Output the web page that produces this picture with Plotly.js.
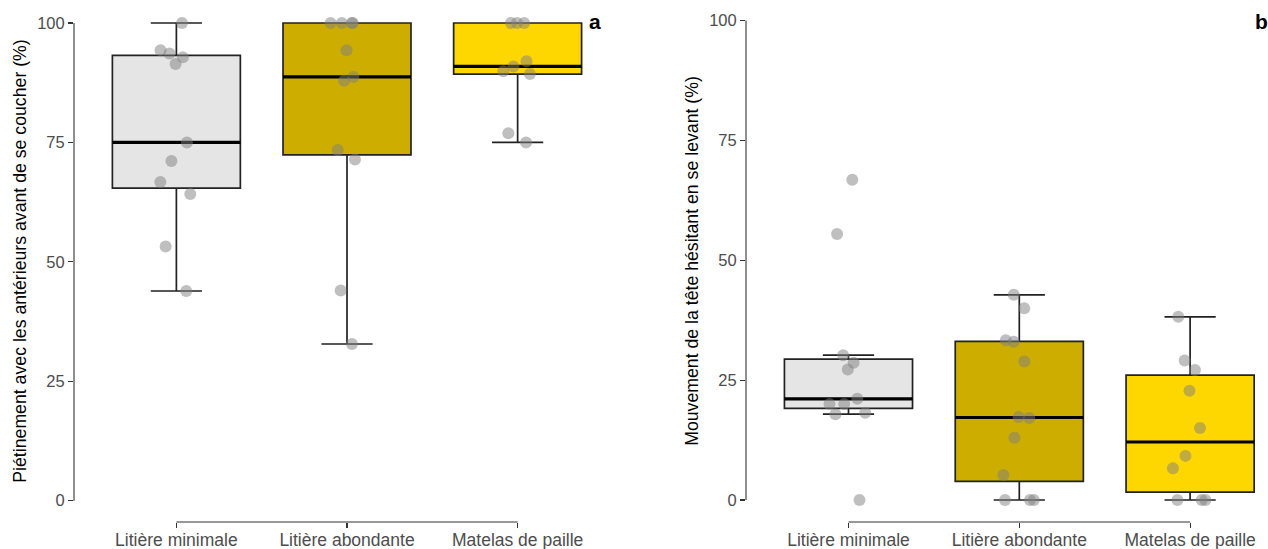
<!DOCTYPE html>
<html>
<head>
<meta charset="utf-8">
<script src="https://cdn.plot.ly/plotly-3.0.1.min.js"></script>
<style>html,body{margin:0;padding:0;background:#fff;}#chart{width:1268px;height:549px;}</style>
</head>
<body>
<div id="chart"></div>
<script>
// ---- data ----
const categories = ['Litière minimale', 'Litière abondante', 'Matelas de paille'];
const fillColors = ['#E5E5E5', '#CDAD00', '#FFD700'];
const yTicks = [0, 25, 50, 75, 100];

// Panel a : Piétinement avec les antérieurs avant de se coucher (%)
const pietinementMinimale  = [100, 94.3, 93.6, 92.8, 91.4, 75, 71.1, 66.7, 64.2, 53.2, 43.9];
const pietinementAbondante = [100, 100, 100, 100, 94.3, 88.7, 87.9, 73.4, 71.4, 44, 32.8];
const pietinementMatelas   = [100, 100, 100, 92, 90.9, 89.9, 89.3, 76.9, 75];

// Panel b : Mouvement de la tête hésitant en se levant (%)
const mouvementMinimale  = [66.8, 55.5, 30.2, 28.6, 27.2, 21.1, 20, 20, 18.2, 17.9, 0];
const mouvementAbondante = [42.8, 40, 33.3, 33.0, 28.9, 17.3, 17.1, 13, 5.2, 0, 0, 0];
const mouvementMatelas   = [38.2, 29.1, 27.1, 22.8, 15.0, 9.2, 6.6, 0, 0, 0];

const titleA = 'Piétinement avec les antérieurs avant de se coucher (%)';
const titleB = 'Mouvement de la tête hésitant en se levant (%)';
const panelLabels = ['a', 'b'];

// ---- stats (type 7 quantiles, Tukey whiskers) ----
function q(sorted, p) {
  const h = (sorted.length - 1) * p, lo = Math.floor(h), hi = Math.ceil(h);
  return sorted[lo] + (h - lo) * (sorted[hi] - sorted[lo]);
}
function stats(vals) {
  const s = vals.slice().sort((a, b) => a - b);
  const q1 = q(s, 0.25), med = q(s, 0.5), q3 = q(s, 0.75), iqr = q3 - q1;
  const lf = Math.min(...s.filter(v => v >= q1 - 1.5 * iqr));
  const uf = Math.max(...s.filter(v => v <= q3 + 1.5 * iqr));
  return {q1, med, q3, lf, uf};
}

const FONT = 'Liberation Sans, Arial, Helvetica, sans-serif';
const traces = [];
function addPanel(groups, xa, ya) {
  groups.forEach((vals, i) => {
    const st = stats(vals);
    const cat = categories[i];
    traces.push({
      type: 'box', x: [cat], q1: [st.q1], median: [st.med], q3: [st.q3],
      lowerfence: [st.lf], upperfence: [st.uf],
      xaxis: xa, yaxis: ya, fillcolor: fillColors[i],
      line: {color: '#222222', width: 1.7}, whiskerwidth: 0.4, width: 0.75,
      boxpoints: false, hoverinfo: 'skip', showlegend: false
    });
    traces.push({
      type: 'box', x: [cat], q1: [st.med], median: [st.med], q3: [st.med],
      lowerfence: [st.med], upperfence: [st.med],
      xaxis: xa, yaxis: ya, fillcolor: 'rgba(0,0,0,0)',
      line: {color: '#000000', width: 3.2}, whiskerwidth: 0, width: 0.75,
      boxpoints: false, hoverinfo: 'skip', showlegend: false
    });
    traces.push({
      type: 'box', x: vals.map(() => cat), y: vals,
      xaxis: xa, yaxis: ya, boxpoints: 'all', jitter: 0.35, pointpos: 0,
      fillcolor: 'rgba(0,0,0,0)', line: {color: 'rgba(0,0,0,0)', width: 0},
      whiskerwidth: 0, width: 0.75,
      marker: {color: 'rgba(128,128,128,0.5)', size: 12, line: {width: 0}},
      hoverinfo: 'skip', showlegend: false
    });
  });
}
addPanel([pietinementMinimale, pietinementAbondante, pietinementMatelas], 'x', 'y');
addPanel([mouvementMinimale, mouvementAbondante, mouvementMatelas], 'x2', 'y2');

const W = 1268;
function xAxis(domain, range) {
  return {
    domain, range, type: 'category', categoryorder: 'array', categoryarray: categories,
    showline: false, showgrid: false, zeroline: false,
    ticks: 'outside', ticklen: 5, tickwidth: 1.1, tickcolor: '#333333',
    ticklabelstandoff: -3,
    tickfont: {family: FONT, size: 17.5, color: '#4D4D4D'}, fixedrange: true
  };
}
function yAxis(range, title, anchor) {
  return {
    range, anchor, tickvals: yTicks, ticktext: yTicks.map(String),
    showline: false, showgrid: false, zeroline: false,
    ticks: 'outside', ticklen: 5, tickwidth: 1.1, tickcolor: '#333333',
    tickfont: {family: FONT, size: 16.5, color: '#4D4D4D'},
    title: {text: title, font: {family: FONT, size: 17.7, color: '#000000'}, standoff: 5},
    fixedrange: true
  };
}

const axisLine = {color: '#333333', width: 1.1};
const shapes = [];
[['x', 'y'], ['x2', 'y2']].forEach(([xa, ya]) => {
  shapes.push({type: 'line', xref: xa + ' domain', x0: 0, x1: 0, yref: ya,
               y0: yTicks[0], y1: yTicks[yTicks.length - 1], line: axisLine});
  shapes.push({type: 'line', xref: xa, x0: 0, x1: categories.length - 1,
               yref: ya + ' domain', y0: 0, y1: 0, line: axisLine});
});

const layout = {
  width: W, height: 549,
  margin: {l: 0, r: 0, t: 0, b: 27, pad: 0},
  paper_bgcolor: '#ffffff', plot_bgcolor: '#ffffff',
  showlegend: false, boxmode: 'overlay',
  xaxis: xAxis([74 / W, 620 / W], [-0.6, 2.6]),
  yaxis: yAxis([-4.46, 104.81], titleA, 'x'),
  xaxis2: xAxis([746 / W, 1], [-0.6, 2.456]),
  yaxis2: yAxis([-4.59, 104.28], titleB, 'x2'),
  shapes,
  annotations: [
    {text: '<b>' + panelLabels[0] + '</b>', xref: 'paper', yref: 'paper', x: 594.5 / W, y: 1 - 21 / 522,
     xanchor: 'center', yanchor: 'middle', showarrow: false, font: {family: FONT, size: 21, color: '#000'}},
    {text: '<b>' + panelLabels[1] + '</b>', xref: 'paper', yref: 'paper', x: 1261.5 / W, y: 1 - 21 / 522,
     xanchor: 'center', yanchor: 'middle', showarrow: false, font: {family: FONT, size: 21, color: '#000'}}
  ]
};

Plotly.newPlot('chart', traces, layout, {displayModeBar: false, staticPlot: true});
</script>
</body>
</html>
